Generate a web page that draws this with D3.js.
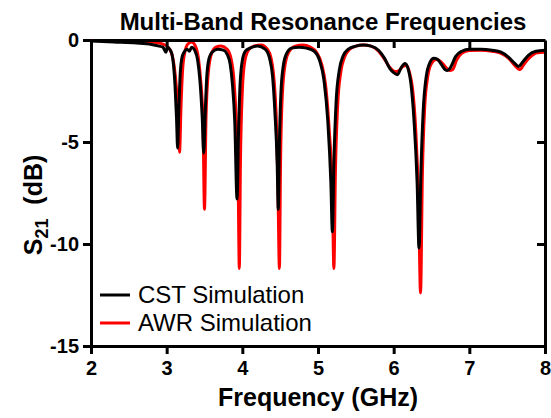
<!DOCTYPE html>
<html>
<head>
<meta charset="utf-8">
<script src="https://cdn.jsdelivr.net/npm/d3@7"></script>
<style>
  body { margin: 0; background: #fff; }
  svg text { font-family: "Liberation Sans", Arial, sans-serif; }
</style>
</head>
<body>
<script>
// frequency (GHz) / S21 (dB)
var cstFreq = [2.00, 2.30, 2.60, 2.80, 2.90, 2.95, 2.99, 3.01, 3.04, 3.07, 3.09, 3.11, 3.13, 3.145, 3.16, 3.18, 3.20, 3.23, 3.27, 3.30, 3.33, 3.37, 3.41, 3.44, 3.47, 3.49, 3.51, 3.53, 3.56, 3.60, 3.67, 3.75, 3.80, 3.84, 3.87, 3.90, 3.93, 3.95, 3.97, 4.00, 4.04, 4.10, 4.20, 4.30, 4.36, 4.40, 4.43, 4.46, 4.475, 4.49, 4.51, 4.54, 4.58, 4.65, 4.75, 4.85, 4.95, 5.02, 5.08, 5.13, 5.17, 5.19, 5.21, 5.24, 5.28, 5.33, 5.40, 5.50, 5.60, 5.70, 5.80, 5.88, 5.95, 6.00, 6.05, 6.10, 6.15, 6.19, 6.23, 6.27, 6.31, 6.335, 6.36, 6.39, 6.43, 6.48, 6.53, 6.58, 6.63, 6.68, 6.71, 6.75, 6.82, 6.90, 7.00, 7.15, 7.30, 7.42, 7.52, 7.60, 7.65, 7.70, 7.78, 7.88, 8.00];
var cstDb = [-0.05, -0.10, -0.15, -0.22, -0.30, -0.35, -0.60, -0.35, -0.45, -0.70, -1.20, -2.20, -3.80, -5.30, -3.50, -1.60, -0.90, -0.60, -0.45, -0.55, -0.35, -0.50, -1.00, -2.00, -3.80, -5.55, -3.50, -1.80, -0.90, -0.60, -0.45, -0.50, -0.70, -1.20, -2.20, -4.00, -7.80, -4.50, -2.20, -1.00, -0.55, -0.40, -0.30, -0.45, -0.90, -1.80, -3.50, -6.00, -8.30, -5.00, -2.60, -1.30, -0.70, -0.40, -0.35, -0.40, -0.55, -1.00, -2.00, -4.00, -7.00, -9.40, -6.00, -3.00, -1.50, -0.80, -0.45, -0.30, -0.25, -0.30, -0.50, -0.90, -1.40, -1.60, -1.70, -1.35, -1.15, -1.40, -2.20, -4.00, -7.00, -10.20, -6.50, -3.50, -1.80, -1.10, -0.90, -0.95, -1.20, -1.45, -1.50, -1.35, -0.80, -0.55, -0.45, -0.45, -0.50, -0.60, -0.85, -1.15, -1.30, -1.10, -0.75, -0.55, -0.50];

var awrFreq = [2.00, 2.50, 2.80, 2.95, 3.02, 3.07, 3.10, 3.13, 3.155, 3.17, 3.19, 3.21, 3.24, 3.28, 3.33, 3.38, 3.42, 3.45, 3.48, 3.50, 3.52, 3.55, 3.59, 3.65, 3.72, 3.80, 3.85, 3.89, 3.92, 3.945, 3.96, 3.975, 4.00, 4.03, 4.08, 4.15, 4.25, 4.33, 4.38, 4.42, 4.45, 4.47, 4.49, 4.505, 4.53, 4.57, 4.62, 4.70, 4.80, 4.90, 4.98, 5.05, 5.10, 5.15, 5.19, 5.21, 5.23, 5.26, 5.30, 5.35, 5.42, 5.50, 5.60, 5.70, 5.80, 5.88, 5.95, 6.02, 6.07, 6.12, 6.17, 6.21, 6.25, 6.29, 6.33, 6.355, 6.38, 6.41, 6.45, 6.50, 6.56, 6.62, 6.68, 6.74, 6.78, 6.83, 6.90, 7.00, 7.15, 7.30, 7.42, 7.52, 7.60, 7.67, 7.72, 7.80, 7.90, 8.00];
var awrDb = [-0.02, -0.05, -0.10, -0.20, -0.35, -0.70, -1.30, -2.40, -3.80, -5.50, -3.20, -1.50, -0.60, -0.20, -0.10, -0.30, -0.90, -2.00, -4.00, -8.30, -3.80, -1.60, -0.70, -0.35, -0.30, -0.45, -0.90, -2.00, -4.00, -7.00, -11.20, -6.00, -2.50, -1.10, -0.50, -0.30, -0.25, -0.45, -0.90, -2.00, -4.00, -7.00, -11.20, -6.00, -2.60, -1.10, -0.55, -0.30, -0.25, -0.35, -0.60, -1.20, -2.20, -4.50, -7.50, -11.20, -6.50, -3.20, -1.60, -0.85, -0.45, -0.30, -0.25, -0.30, -0.55, -0.95, -1.35, -1.55, -1.50, -1.30, -1.25, -1.60, -2.40, -4.30, -8.00, -12.40, -6.50, -3.30, -1.80, -1.15, -0.95, -1.05, -1.30, -1.50, -1.45, -1.00, -0.65, -0.52, -0.50, -0.55, -0.65, -0.90, -1.25, -1.45, -1.20, -0.85, -0.62, -0.60];

var xTicks = [2, 3, 4, 5, 6, 7, 8];
var yTicks = [0, -5, -10, -15];
var seriesNames = ["CST Simulation", "AWR Simulation"];
var seriesColors = ["#000000", "#ff0000"];

var W = 551, H = 418;
var margin = {top: 40, right: 6, bottom: 72, left: 91};

var svg = d3.select("body").append("svg")
  .attr("width", W)
  .attr("height", H);

var x = d3.scaleLinear().domain([2, 8]).range([margin.left, W - margin.right]);
var y = d3.scaleLinear().domain([-15, 0]).range([H - margin.bottom, margin.top]);

// plain hyphen for negatives, like the original
var fmt = d => String(d);

// curves: red under black
var line = d3.line()
  .x(d => x(d[0]))
  .y(d => y(d[1]))
  .curve(d3.curveMonotoneX);

var awr = awrFreq.map((f, i) => [f, awrDb[i]]);
var cst = cstFreq.map((f, i) => [f, cstDb[i]]);

svg.append("path").datum(awr)
  .attr("fill", "none")
  .attr("stroke", seriesColors[1])
  .attr("stroke-width", 3)
  .attr("stroke-linejoin", "round")
  .attr("d", line);

svg.append("path").datum(cst)
  .attr("fill", "none")
  .attr("stroke", seriesColors[0])
  .attr("stroke-width", 3)
  .attr("stroke-linejoin", "round")
  .attr("d", line);

// axes (left/bottom outward ticks, top/right mirrored inward)
var axisBottom = svg.append("g")
  .attr("transform", "translate(0," + y(-15) + ")")
  .call(d3.axisBottom(x).tickValues(xTicks).tickFormat(fmt).tickSize(8).tickSizeOuter(0).tickPadding(7));
var axisLeft = svg.append("g")
  .attr("transform", "translate(" + x(2) + ",0)")
  .call(d3.axisLeft(y).tickValues(yTicks).tickFormat(fmt).tickSize(8).tickSizeOuter(0).tickPadding(4));
var axisTop = svg.append("g")
  .attr("transform", "translate(0," + y(0) + ")")
  .call(d3.axisBottom(x).tickValues(xTicks.slice(1, -1)).tickSize(8).tickSizeOuter(0).tickFormat(""));
var axisRight = svg.append("g")
  .attr("transform", "translate(" + x(8) + ",0)")
  .call(d3.axisLeft(y).tickValues(yTicks.slice(1, -1)).tickSize(-8).tickSizeOuter(0).tickFormat(""))
  .call(g => g.selectAll(".tick line").attr("x2", -8));

[axisBottom, axisLeft, axisTop, axisRight].forEach(function(g) {
  g.select(".domain").attr("stroke", "#000").attr("stroke-width", 3);
  g.selectAll(".tick line").attr("stroke", "#000").attr("stroke-width", 3);
  g.selectAll(".tick text")
    .attr("fill", "#000")
    .style("font-size", "20px")
    .style("font-weight", "bold");
});

// titles
svg.append("text")
  .attr("x", 323).attr("y", 30)
  .attr("text-anchor", "middle")
  .style("font-size", "24px").style("font-weight", "bold")
  .text("Multi-Band Resonance Frequencies");

svg.append("text")
  .attr("x", 318).attr("y", 406)
  .attr("text-anchor", "middle")
  .style("font-size", "25px").style("font-weight", "bold")
  .text("Frequency (GHz)");

var yl = svg.append("text")
  .attr("transform", "translate(42," + 205 + ") rotate(-90)")
  .attr("text-anchor", "middle")
  .style("font-size", "25px").style("font-weight", "bold");
yl.append("tspan").text("S");
yl.append("tspan").attr("dy", 6).style("font-size", "18px").text("21");
yl.append("tspan").attr("dy", -6).text("\u00a0 (dB)");

// legend
var legend = svg.append("g");
seriesNames.forEach(function(name, i) {
  var ly = 295 + i * 28;
  legend.append("line")
    .attr("x1", 100).attr("x2", 130)
    .attr("y1", ly).attr("y2", ly)
    .attr("stroke", seriesColors[i]).attr("stroke-width", 3);
  legend.append("text")
    .attr("x", 138).attr("y", ly + 8)
    .style("font-size", "24px")
    .text(name);
});
</script>
</body>
</html>
